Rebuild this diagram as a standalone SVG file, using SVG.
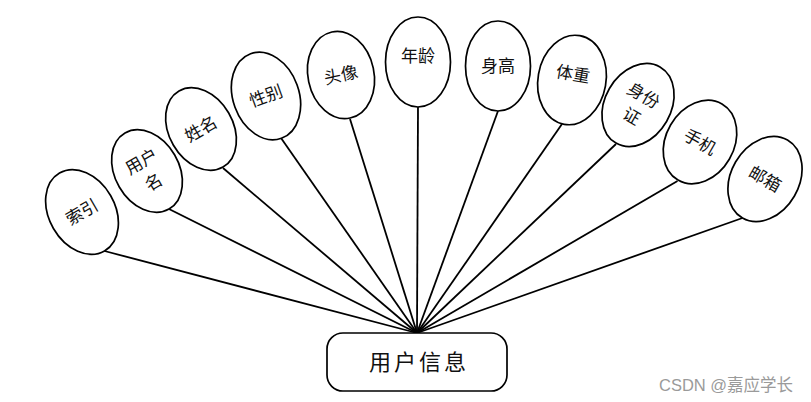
<svg xmlns="http://www.w3.org/2000/svg" width="811" height="402" viewBox="0 0 811 402">
<style>
.bg{fill:#ffffff}
.conn line{stroke:#000;stroke-width:1.8}
.attr ellipse{fill:#fff;stroke:#000;stroke-width:1.7}
.lbl{font-family:"Noto Sans CJK SC","Noto Sans",sans-serif;font-size:17px;fill:#111;text-anchor:middle}
.ent rect{fill:#fff;stroke:#000;stroke-width:1.7}
.big{font-family:"Noto Sans CJK SC","Noto Sans",sans-serif;font-size:22px;fill:#111;text-anchor:middle;letter-spacing:3px}
.wm{font-family:"Liberation Sans","Noto Sans CJK SC",sans-serif;font-size:16.5px;fill:#9a9a9a}
</style>
<rect class="bg" x="0" y="0" width="811" height="402"/>
<g id="connectors" class="conn">
<line x1="104.5" y1="251" x2="417" y2="333"/>
<line x1="169" y1="209" x2="417" y2="333"/>
<line x1="223" y1="168" x2="417" y2="333"/>
<line x1="281" y1="138" x2="417" y2="333"/>
<line x1="350" y1="119" x2="417" y2="333"/>
<line x1="418" y1="107" x2="417" y2="333"/>
<line x1="498" y1="111" x2="417" y2="333"/>
<line x1="562" y1="124" x2="417" y2="333"/>
<line x1="616" y1="144" x2="417" y2="333"/>
<line x1="677.5" y1="181" x2="417" y2="333"/>
<line x1="742.5" y1="218" x2="417" y2="333"/>
</g>
<g id="n-suoyin" class="attr" transform="translate(82,212) rotate(-30)"><ellipse rx="33" ry="45"/><text class="lbl" y="6">索引</text></g>
<g id="n-yonghuming" class="attr" transform="translate(147,171) rotate(-30)"><ellipse rx="32" ry="44"/><text class="lbl" y="-5">用户</text><text class="lbl" y="19">名</text></g>
<g id="n-xingming" class="attr" transform="translate(201,129) rotate(-30)"><ellipse rx="32" ry="44"/><text class="lbl" y="6">姓名</text></g>
<g id="n-xingbie" class="attr" transform="translate(266,96) rotate(-20)"><ellipse rx="33" ry="45"/><text class="lbl" y="6">性别</text></g>
<g id="n-touxiang" class="attr" transform="translate(341,75) rotate(-12)"><ellipse rx="33" ry="44"/><text class="lbl" y="6">头像</text></g>
<g id="n-nianling" class="attr" transform="translate(418,62)"><ellipse rx="32.5" ry="45"/><text class="lbl" y="0">年龄</text></g>
<g id="n-shengao" class="attr" transform="translate(498,66)"><ellipse rx="32.5" ry="45"/><text class="lbl" y="6">身高</text></g>
<g id="n-tizhong" class="attr" transform="translate(572,80) rotate(10)"><ellipse rx="34" ry="45"/><text class="lbl" y="0">体重</text></g>
<g id="n-shenfenzheng" class="attr" transform="translate(638,105) rotate(30)"><ellipse rx="33" ry="44"/><text class="lbl" y="-5">身份</text><text class="lbl" y="19">证</text></g>
<g id="n-shouji" class="attr" transform="translate(700,142) rotate(30)"><ellipse rx="34" ry="44"/><text class="lbl" y="6">手机</text></g>
<g id="n-youxiang" class="attr" transform="translate(765,179) rotate(30)"><ellipse rx="34" ry="45"/><text class="lbl" y="6">邮箱</text></g>
<g id="n-yonghuxinxi" class="ent"><rect x="327" y="333" width="180" height="58" rx="16" ry="16"/><text class="big" x="419" y="370">用户信息</text></g>
<text class="wm" x="659" y="391">CSDN @嘉应学长</text>
</svg>
